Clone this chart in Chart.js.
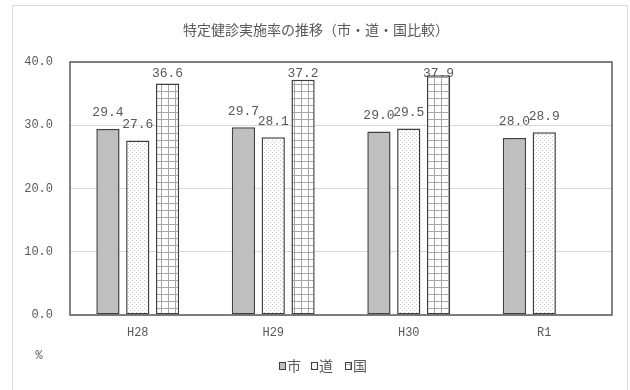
<!DOCTYPE html>
<html>
<head>
<meta charset="utf-8">
<script src="https://cdn.jsdelivr.net/npm/chart.js@4.4.1/dist/chart.umd.min.js"></script>
<style>
html,body{margin:0;padding:0;background:#fff;}
#wrap{position:relative;width:630px;height:390px;}
</style>
</head>
<body>
<div id="wrap"><canvas id="c" width="630" height="390"></canvas></div>
<script>
const categories = ['H28', 'H29', 'H30', 'R1'];
const seriesNames = ['市', '道', '国'];
const cityValues = [29.4, 29.7, 29.0, 28.0];
const prefValues = [27.6, 28.1, 29.5, 28.9];
const nationValues = [36.6, 37.2, 37.9, null];
const yTicks = [0, 10, 20, 30, 40];
const chartTitle = '特定健診実施率の推移（市・道・国比較）';
const unitLabel = '%';

function makePattern(kind) {
  const c = document.createElement('canvas');
  const ctx = c.getContext('2d');
  if (kind === 'dots') {
    c.width = 4; c.height = 4;
    ctx.fillStyle = '#ffffff'; ctx.fillRect(0, 0, 4, 4);
    ctx.fillStyle = '#c8c8c8';
    ctx.fillRect(0, 0, 1, 1);
    ctx.fillRect(2, 2, 1, 1);
  } else {
    c.width = 7; c.height = 7;
    ctx.fillStyle = '#ffffff'; ctx.fillRect(0, 0, 7, 7);
    ctx.fillStyle = '#a6a6a6';
    ctx.fillRect(0, 0, 7, 1);
    ctx.fillRect(0, 0, 1, 7);
  }
  return document.getElementById('c').getContext('2d').createPattern(c, 'repeat');
}
const dotPattern = makePattern('dots');
const gridPattern = makePattern('grid');
const fills = ['#bfbfbf', dotPattern, gridPattern];
const MONO = '"Liberation Mono", "DejaVu Sans Mono", monospace';
const CJK = '"Noto Sans CJK JP", "Noto Sans", sans-serif';
const TXT = '#595959';

const extras = {
  id: 'extras',
  beforeDraw(chart) {
    const ctx = chart.ctx;
    ctx.save();
    ctx.fillStyle = '#ffffff';
    ctx.fillRect(0, 0, chart.width, chart.height);
    ctx.strokeStyle = '#d9d9d9';
    ctx.lineWidth = 1;
    ctx.strokeRect(12.5, 5.5, 615, 390);
    ctx.restore();
  },
  afterDatasetsDraw(chart) {
    const ctx = chart.ctx;
    const a = chart.chartArea;
    ctx.save();
    // plot frame
    ctx.strokeStyle = '#595959';
    ctx.lineWidth = 1.5;
    ctx.strokeRect(a.left, a.top, a.right - a.left, a.bottom - a.top);
    // data labels
    ctx.font = '13px ' + MONO;
    ctx.fillStyle = TXT;
    ctx.textAlign = 'center';
    ctx.textBaseline = 'middle';
    chart.data.datasets.forEach((ds, di) => {
      const meta = chart.getDatasetMeta(di);
      meta.data.forEach((bar, i) => {
        const v = ds.data[i];
        if (v === null || v === undefined) return;
        const y = Math.max(bar.y - 16, 74);
        ctx.fillText(v.toFixed(1), bar.x, y);
      });
    });
    ctx.restore();
  },
  afterDraw(chart) {
    const ctx = chart.ctx;
    ctx.save();
    ctx.fillStyle = TXT;
    ctx.font = '14px ' + CJK;
    ctx.textAlign = 'center';
    ctx.textBaseline = 'middle';
    ctx.fillText(chartTitle, 316, 30);
    ctx.font = '12px ' + MONO;
    ctx.fillText(unitLabel, 39, 356);
    // legend
    const xs = [279, 311, 345];
    ctx.textAlign = 'left';
    ctx.font = '14px ' + CJK;
    seriesNames.forEach((n, i) => {
      ctx.fillStyle = fills[i];
      ctx.fillRect(xs[i], 363, 6, 6);
      ctx.strokeStyle = '#404040';
      ctx.lineWidth = 1;
      ctx.strokeRect(xs[i] + 0.5, 362.5, 6, 7);
      ctx.fillStyle = TXT;
      ctx.fillText(n, xs[i] + 8, 366);
    });
    ctx.restore();
  }
};

new Chart(document.getElementById('c'), {
  type: 'bar',
  data: {
    labels: categories,
    datasets: [cityValues, prefValues, nationValues].map((d, i) => ({
      label: seriesNames[i],
      data: d,
      backgroundColor: fills[i],
      borderColor: '#404040',
      borderWidth: 1.5,
      borderSkipped: false,
      categoryPercentage: 0.66,
      barPercentage: 0.78
    }))
  },
  options: {
    responsive: false,
    animation: false,
    devicePixelRatio: 1,
    layout: { padding: { left: 12, right: 18, top: 62, bottom: 0 } },
    plugins: { legend: { display: false }, title: { display: false }, tooltip: { enabled: false } },
    scales: {
      x: {
        grid: { display: false, drawTicks: false },
        border: { display: false },
        ticks: { color: TXT, font: { family: MONO, size: 12 }, padding: 11 },
        afterFit(s) { s.height = 75; }
      },
      y: {
        min: 0, max: 40,
        afterBuildTicks(s) { s.ticks = yTicks.map(v => ({ value: v })); },
        grid: { color: '#d9d9d9', lineWidth: 1, drawTicks: false },
        border: { display: false },
        ticks: { color: TXT, font: { family: MONO, size: 12 }, padding: 17,
                 callback: v => Number(v).toFixed(1) },
        afterFit(s) { s.width = 58; }
      }
    }
  },
  plugins: [extras]
});
</script>
</body>
</html>
